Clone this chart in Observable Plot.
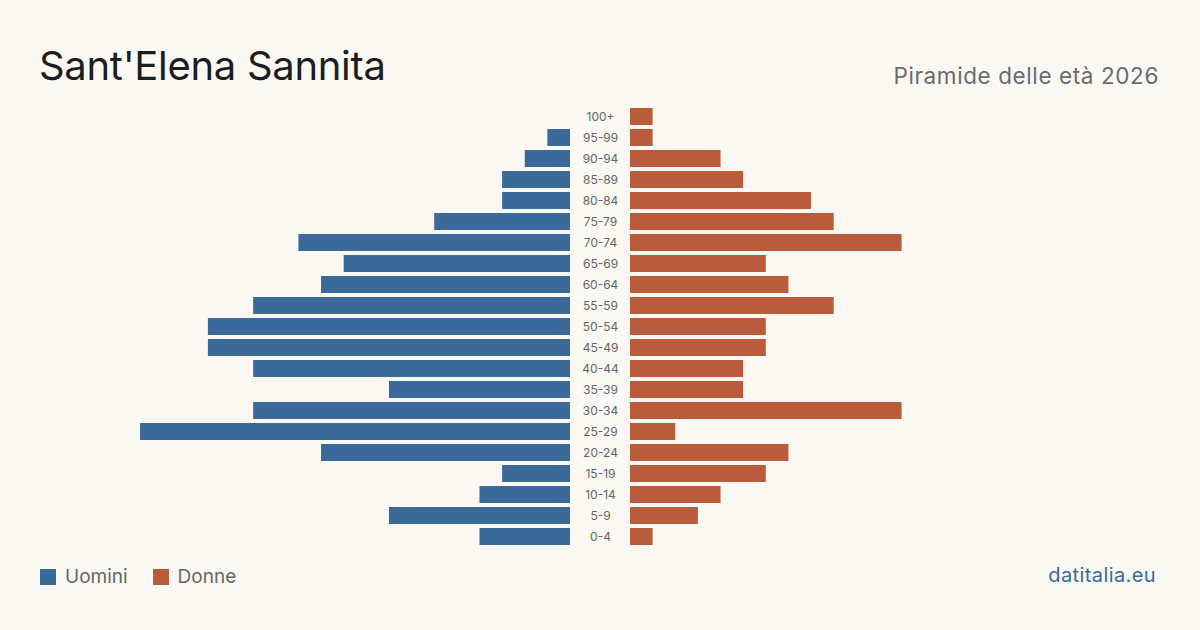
<!DOCTYPE html>
<html>
<head>
<meta charset="utf-8">
<script src="https://cdn.jsdelivr.net/npm/d3@7"></script>
<script src="https://cdn.jsdelivr.net/npm/@observablehq/plot@0.6"></script>
<style>
  html, body { margin: 0; padding: 0; }
  body { width: 1200px; height: 630px; background: #f9f8f3; position: relative; overflow: hidden; font-family: Inter, "Noto Sans", sans-serif; }
  #title { position: absolute; left: 39px; top: 41px; font-size: 40px; color: #1d1d1d; font-weight: 400; letter-spacing: -0.3px; }
  #subtitle { position: absolute; right: 41px; top: 62px; font-size: 22.5px; color: #6b6b6b; letter-spacing: 0.6px; }
  #left, #mid, #right { position: absolute; top: 106px; }
  #left { left: 40px; }
  #mid { left: 570px; }
  #right { left: 630px; }
  #legend { position: absolute; left: 40px; top: 565px; display: flex; align-items: center; font-size: 19px; color: #666; }
  .sw { display: inline-block; width: 16px; height: 16px; margin-right: 9px; }
  .item { display: flex; align-items: center; margin-right: 25px; }
  #source { position: absolute; right: 44px; top: 563px; font-size: 20px; color: #3b6a9a; letter-spacing: 0.4px; }
</style>
</head>
<body>
<div id="title">Sant'Elena Sannita</div>
<div id="subtitle">Piramide delle età 2026</div>
<div id="left"></div>
<div id="mid"></div>
<div id="right"></div>
<div id="legend">
  <span class="item"><span class="sw" style="background:#3b6a9a"></span>Uomini</span>
  <span class="item"><span class="sw" style="background:#b95c3c"></span>Donne</span>
</div>
<div id="source">datitalia.eu</div>
<script>
const ages = ["100+","95-99","90-94","85-89","80-84","75-79","70-74","65-69","60-64","55-59","50-54","45-49","40-44","35-39","30-34","25-29","20-24","15-19","10-14","5-9","0-4"];
const uomini = [0,1,2,3,3,6,12,10,11,14,16,16,14,8,14,19,11,3,4,8,4];
const donne  = [1,1,4,5,8,9,12,6,7,9,6,6,5,5,12,2,7,6,4,3,1];
const blue = "#3b6a9a";
const orange = "#b95c3c";

const men = ages.map((a, i) => ({age: a, value: uomini[i]}));
const women = ages.map((a, i) => ({age: a, value: donne[i]}));
const maxV = d3.max([...uomini, ...donne]);

const H = 441;
const yOpt = {domain: ages, paddingInner: 0.19, paddingOuter: 0.095, axis: null};

const left = Plot.plot({
  width: 530, height: H, margin: 0,
  style: {background: "transparent", overflow: "visible"},
  x: {domain: [0, maxV], range: [530, 100], axis: null},
  y: yOpt,
  marks: [Plot.barX(men, {x: "value", y: "age", fill: blue})]
});
document.getElementById("left").appendChild(left);

const mid = Plot.plot({
  width: 60, height: H, margin: 0,
  style: {background: "transparent", overflow: "visible"},
  x: {axis: null, domain: [0, 1]},
  y: yOpt,
  marks: [Plot.text(ages, {x: () => 0.5, y: d => d, text: d => d, fontSize: 12, fill: "#666", fontFamily: "Inter, sans-serif"})]
});
document.getElementById("mid").appendChild(mid);

const right = Plot.plot({
  width: 530, height: H, margin: 0,
  style: {background: "transparent", overflow: "visible"},
  x: {domain: [0, maxV], range: [0, 430], axis: null},
  y: yOpt,
  marks: [Plot.barX(women, {x: "value", y: "age", fill: orange})]
});
document.getElementById("right").appendChild(right);
</script>
</body>
</html>
